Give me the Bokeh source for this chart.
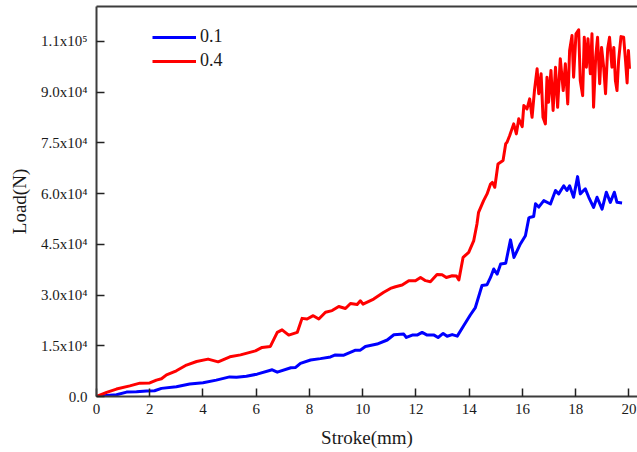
from bokeh.plotting import figure
from bokeh.models import Range1d, FixedTicker, LinearAxis
from bokeh.embed import file_html
from bokeh.resources import INLINE

# Load vs. stroke, two test series
stroke_01 = [0, 0.38, 0.75, 1.13, 1.5, 1.88, 2.18, 2.44, 3.0, 3.5, 4.0, 4.5, 5.0, 5.26, 5.63,
             6.03, 6.6, 6.79, 7.3, 7.48, 7.66, 8.04, 8.41, 8.79, 8.97, 9.29, 9.73, 9.91, 10.1,
             10.54, 10.92, 11.17, 11.54, 11.64, 11.86, 12.04, 12.23, 12.42, 12.68, 12.83, 13.02,
             13.17, 13.36, 13.55, 13.79, 14.04, 14.23, 14.48, 14.67, 14.8, 14.92, 15.05, 15.18,
             15.37, 15.55, 15.68, 15.92, 16.11, 16.24, 16.3, 16.42, 16.49, 16.61, 16.8, 17.05,
             17.24, 17.36, 17.55, 17.67, 17.77, 17.92, 18.07, 18.17, 18.36, 18.49, 18.67, 18.8,
             18.99, 19.15, 19.3, 19.45, 19.55, 19.74]
load_01 = [0, 300, 500, 1300, 1400, 1600, 1700, 2400, 2900, 3700, 4050, 4850, 5800, 5700, 6000,
           6600, 7900, 7200, 8500, 8600, 9800, 10800, 11200, 11700, 12300, 12200, 13700, 13700, 14800,
           15500, 16700, 18250, 18450, 17450, 18150, 18150, 18950, 18150, 18150, 17450, 18650,
           17800, 18300, 17850, 20900, 24100, 26300, 32800, 33050, 35200, 37700, 36200, 39200,
           39400, 46300, 41100, 45100, 47550, 52800, 53000, 53200, 57000, 56000, 57900, 56900,
           60900, 59900, 62300, 60900, 62300, 58900, 65000, 59900, 61400, 58900, 55900, 58900,
           55400, 60400, 57400, 60400, 57400, 57200]

stroke_04 = [0, 0.38, 0.75, 1.25, 1.63, 2.0, 2.25, 2.44, 2.63, 3.0, 3.38, 3.76, 4.19, 4.57, 5.01,
             5.41, 5.97, 6.22, 6.53, 6.79, 6.97, 7.22, 7.54, 7.72, 7.91, 8.14, 8.35, 8.6, 8.85,
             9.1, 9.35, 9.54, 9.79, 9.91, 10.01, 10.41, 10.79, 11.04, 11.23, 11.48, 11.73, 11.98,
             12.17, 12.36, 12.54, 12.79, 12.98, 13.14, 13.36, 13.52, 13.61, 13.77, 13.98, 14.17,
             14.29, 14.35, 14.54, 14.67, 14.8, 14.87, 14.96, 15.08, 15.27, 15.37, 15.42, 15.52,
             15.67, 15.77, 15.86, 15.99, 16.05, 16.17, 16.27, 16.36, 16.45, 16.55, 16.61, 16.7,
             16.77, 16.86, 16.92, 16.98, 17.07, 17.15, 17.24, 17.32, 17.42, 17.53, 17.61, 17.7,
             17.77, 17.86, 17.92, 18.01, 18.11, 18.17, 18.26, 18.32, 18.4, 18.46, 18.55, 18.61,
             18.67, 18.75, 18.82, 18.9, 18.97, 19.05, 19.12, 19.2, 19.27, 19.36, 19.43, 19.49,
             19.55, 19.61, 19.7, 19.8, 19.87, 19.93, 19.98, 20.02]
load_04 = [0, 1200, 2200, 3150, 3950, 4000, 4850, 5250, 6400, 7600, 9300, 10350, 11050, 10250, 11750,
           12300, 13500, 14500, 14800, 18950, 19700, 18150, 18950, 23100, 22900, 23900, 22900, 24900,
           25400, 26600, 26000, 27500, 27200, 28300, 27300, 28800, 30800, 31950, 32450, 32950, 34250,
           34250, 35200, 34250, 33950, 36100, 36000, 35200, 35700, 35600, 34450, 41150, 42600, 46100,
           51000, 54450, 57900, 59900, 62800, 63300, 61850, 68750, 69750, 74700, 75150, 77150,
           80600, 77650, 82100, 79800, 86000, 85050, 88000, 82550, 90450, 96900, 89500, 95400,
           82550, 80600, 94400, 87000, 96400, 84550, 97350, 85500, 99850, 90450, 98350, 86500,
           102300, 106700, 94400, 107250, 108400, 93400, 88950, 106200, 97350, 105750, 95400, 107250,
           85500, 100300, 106200, 92450, 103200, 97350, 89500, 102800, 106200, 97350, 103200, 93400,
           90450, 99300, 106400, 106200, 99300, 92700, 102300, 96900]

x_ticks = [0, 2, 4, 6, 8, 10, 12, 14, 16, 18, 20]
y_ticks = [0, 15000, 30000, 45000, 60000, 75000, 90000, 105000]
y_tick_labels = ["0.0", "1.5x10\u2074", "3.0x10\u2074", "4.5x10\u2074", "6.0x10\u2074",
                 "7.5x10\u2074", "9.0x10\u2074", "1.1x10\u2075"]

FONT = "Liberation Serif"
AXIS_COLOR = "#3c3c3c"
TEXT_COLOR = "#1a1a1a"

p = figure(width=637, height=452, output_backend="svg", toolbar_location=None,
           x_range=Range1d(0, 20.32), y_range=Range1d(0, 115300),
           min_border_left=96, min_border_right=0, min_border_top=6, min_border_bottom=56,
           x_axis_label="Stroke(mm)", y_axis_label="Load(N)")
p.grid.visible = False
p.outline_line_color = None
p.background_fill_color = "white"
p.border_fill_color = "white"

p.line(stroke_01, load_01, line_color="#0000ff", line_width=3, line_join="round",
       legend_label="0.1")
p.line(stroke_04, load_04, line_color="#ff0000", line_width=3, line_join="round",
       legend_label="0.4")

for ax in (p.xaxis[0], p.yaxis[0]):
    ax.axis_line_color = AXIS_COLOR
    ax.axis_line_width = 2
    ax.major_tick_line_color = "#222222"
    ax.major_tick_line_width = 1.5
    ax.major_tick_in = 8
    ax.major_tick_out = 0
    ax.minor_tick_line_color = None
    ax.major_label_text_font = FONT
    ax.major_label_text_font_size = "15px"
    ax.major_label_text_color = TEXT_COLOR
    ax.axis_label_text_font = FONT
    ax.axis_label_text_font_size = "19px"
    ax.axis_label_text_font_style = "normal"
    ax.axis_label_text_color = TEXT_COLOR

p.xaxis.ticker = FixedTicker(ticks=x_ticks)
p.xaxis.major_label_standoff = 7
p.xaxis.axis_label_standoff = 10

p.yaxis.ticker = FixedTicker(ticks=y_ticks)
p.yaxis.major_label_overrides = dict(zip(y_ticks, y_tick_labels))
p.yaxis.major_label_standoff = 9
p.yaxis.axis_label_standoff = 8

# top frame edge
top = LinearAxis(ticker=FixedTicker(ticks=[]), axis_line_color=AXIS_COLOR, axis_line_width=2,
                 major_tick_line_color=None, minor_tick_line_color=None,
                 major_label_text_font_size="0px")
p.add_layout(top, "above")

lg = p.legend[0]
lg.location = (56, 325)
lg.padding = 0
lg.margin = 0
lg.spacing = 3
lg.glyph_width = 44
lg.glyph_height = 20
lg.label_standoff = 4
lg.label_text_font = FONT
lg.label_text_font_size = "18px"
lg.label_text_color = TEXT_COLOR
lg.border_line_color = None
lg.background_fill_alpha = 0

open("out.html", "w").write(file_html(p, INLINE))
